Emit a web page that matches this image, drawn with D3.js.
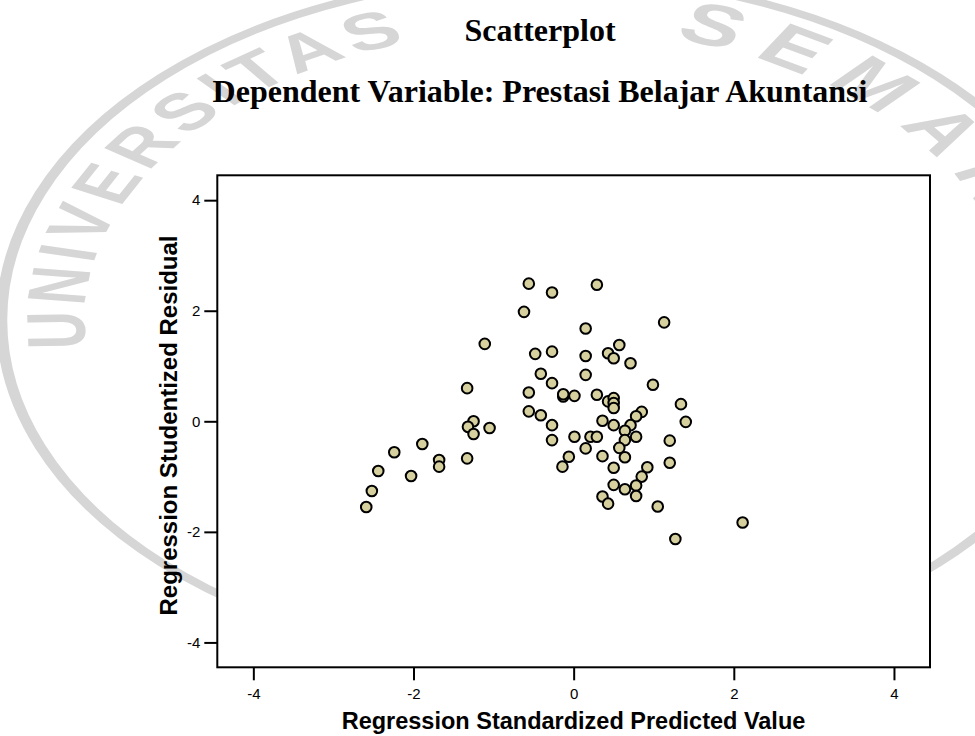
<!DOCTYPE html>
<html>
<head>
<meta charset="utf-8">
<script src="https://cdn.jsdelivr.net/npm/d3@7"></script>
<style>
  body { margin: 0; background: white; }
</style>
</head>
<body>
<svg id="chart" width="975" height="736"></svg>
<script>
// data
var predicted = [-0.56, -0.27, -0.62, -1.11, -0.48, -0.27, -0.41, -0.27, -1.33, -0.56,
  -0.13, -0.13, -0.56, -0.41, 0.29, 1.13, 0.15, 0.57, 0.43, 0.50,
  0.71, 0.15, 0.15, 0.99, 0.01, 0.29, 0.43, 0.50, 0.50, 0.50,
  1.34, 0.85, 0.78, -1.25, -1.32, -1.25, -1.05, -0.27, -0.27, -1.89,
  -2.24, -1.68, -1.68, -1.33, -2.44, -2.03, -2.52, -2.59, -0.14, -0.06,
  0.36, 0.50, 0.71, 0.64, 0.01, 0.21, 0.29, 0.64, 0.78, 0.15,
  0.57, 0.36, 0.64, 0.50, 0.92, 0.85, 1.40, 1.20, 1.20, 0.50,
  0.64, 0.78, 0.78, 0.36, 0.43, 1.05, 2.11, 1.27]
var residual = [2.49, 2.33, 1.98, 1.40, 1.22, 1.26, 0.86, 0.69, 0.60, 0.52,
  0.45, 0.49, 0.18, 0.11, 2.47, 1.79, 1.68, 1.38, 1.23, 1.14,
  1.05, 1.18, 0.84, 0.66, 0.46, 0.48, 0.36, 0.42, 0.33, 0.24,
  0.31, 0.17, 0.09, 0.00, -0.10, -0.23, -0.12, -0.07, -0.34, -0.41,
  -0.56, -0.70, -0.82, -0.67, -0.90, -0.99, -1.26, -1.55, -0.82, -0.64,
  0.01, -0.07, -0.07, -0.17, -0.28, -0.28, -0.28, -0.34, -0.28, -0.49,
  -0.48, -0.63, -0.65, -0.84, -0.83, -1.00, -0.01, -0.35, -0.75, -1.15,
  -1.23, -1.16, -1.35, -1.36, -1.49, -1.54, -1.83, -2.13]
var xTicks = [-4, -2, 0, 2, 4]
var yTicks = [-4, -2, 0, 2, 4]
var title = "Scatterplot"
var subtitle = "Dependent Variable: Prestasi Belajar Akuntansi"
var xLabel = "Regression Standardized Predicted Value"
var yLabel = "Regression Studentized Residual"
var watermarkWords = ["UNIVERSITAS", "SEMARANG"]

window.onload = () => {
  draw_watermark()
  draw_scatter()
}

// faint university stamp behind the page (stretched sideways like the scan)
function draw_watermark(){
  var svg = d3.select("#chart")
  var r = 292
  var wm = svg.append("g")
    .attr("transform", "translate(550,320) scale(1.594,1)")
    .attr("fill", "#d6d6d6")

  wm.append("path")
    .attr("id", "wmArc")
    .attr("fill", "none")
    .attr("d", "M0," + r +
      " A" + r + "," + r + " 0 1 1 0," + (-r) +
      " A" + r + "," + r + " 0 1 1 0," + r)

  // outer ring
  wm.append("circle")
    .attr("r", 344)
    .attr("fill", "none")
    .attr("stroke", "#d6d6d6")
    .attr("stroke-width", 7)

  var offsets = [430, 995]
  wm.selectAll("text.wm")
    .data(watermarkWords)
    .enter()
    .append("text")
      .attr("class", "wm")
      .style("font-family", "'Liberation Sans', Arial, sans-serif")
      .style("font-weight", "bold")
      .style("font-size", function(d, i){ return i ? "58px" : "52px" })
      .style("letter-spacing", function(d, i){ return i ? "14px" : "5px" })
    .append("textPath")
      .attr("href", "#wmArc")
      .attr("startOffset", function(d, i){ return offsets[i] })
      .text(function(d){ return d })
}

function draw_scatter(){
  var svg = d3.select("#chart")

  var plot = {left: 217.3, right: 930, top: 175.3, bottom: 667.3}

  var x = d3.scaleLinear()
    .domain([-4.45, 4.45])
    .range([plot.left, plot.right])
  var y = d3.scaleLinear()
    .domain([-4.45, 4.45])
    .range([plot.bottom, plot.top])

  // titles, centred over the whole chart block
  svg.append("text")
    .attr("x", 540)
    .attr("y", 41)
    .attr("text-anchor", "middle")
    .style("font-family", "'Liberation Serif', 'Times New Roman', serif")
    .style("font-weight", "bold")
    .style("font-size", "32px")
    .text(title)
  svg.append("text")
    .attr("x", 540)
    .attr("y", 102)
    .attr("text-anchor", "middle")
    .style("font-family", "'Liberation Serif', 'Times New Roman', serif")
    .style("font-weight", "bold")
    .style("font-size", "32px")
    .text(subtitle)

  // plot background + frame
  svg.append("rect")
    .attr("x", plot.left)
    .attr("y", plot.top)
    .attr("width", plot.right - plot.left)
    .attr("height", plot.bottom - plot.top)
    .attr("fill", "white")
    .attr("stroke", "black")
    .attr("stroke-width", 2)

  // axes
  var xAxis = svg.append("g")
    .attr("transform", "translate(0," + plot.bottom + ")")
    .call(d3.axisBottom(x).tickValues(xTicks).tickSize(13).tickPadding(8).tickFormat(d => String(d)))
  var yAxis = svg.append("g")
    .attr("transform", "translate(" + plot.left + ",0)")
    .call(d3.axisLeft(y).tickValues(yTicks).tickSize(13).tickPadding(4).tickFormat(d => String(d)))

  ;[xAxis, yAxis].forEach(function(g){
    g.select(".domain").remove()
    g.selectAll(".tick line").attr("stroke", "black").attr("stroke-width", 2)
    g.selectAll(".tick text")
      .attr("fill", "black")
      .style("font-family", "'Liberation Sans', Arial, sans-serif")
      .style("font-size", "15px")
  })

  // axis titles
  svg.append("text")
    .attr("x", 573.5)
    .attr("y", 729)
    .attr("text-anchor", "middle")
    .style("font-family", "'Liberation Sans', Arial, sans-serif")
    .style("font-weight", "bold")
    .style("font-size", "23.5px")
    .text(xLabel)
  svg.append("text")
    .attr("transform", "translate(177,425.5) rotate(-90)")
    .attr("text-anchor", "middle")
    .style("font-family", "'Liberation Sans', Arial, sans-serif")
    .style("font-weight", "bold")
    .style("font-size", "24px")
    .text(yLabel)

  // points
  var data = predicted.map(function(d, i){ return {x: d, y: residual[i]} })
  svg.append("g")
    .selectAll("circle")
    .data(data)
    .enter()
    .append("circle")
      .attr("cx", function(d){ return x(d.x) })
      .attr("cy", function(d){ return y(d.y) })
      .attr("r", 5.3)
      .attr("fill", "#d6d09e")
      .attr("stroke", "black")
      .attr("stroke-width", 2)
}
</script>
</body>
</html>
